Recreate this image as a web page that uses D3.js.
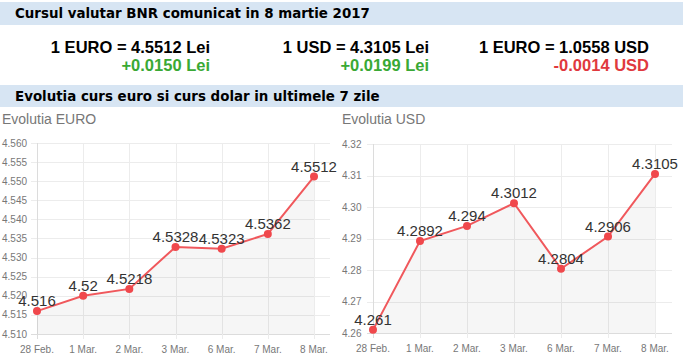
<!DOCTYPE html>
<html>
<head>
<meta charset="utf-8">
<script src="https://cdn.jsdelivr.net/npm/d3@7/dist/d3.min.js"></script>
<style>
  body { margin: 0; background: #fff; }
  svg { display: block; }
  .bar-title { font-family: "DejaVu Sans", Verdana, sans-serif; font-weight: bold; font-size: 13.4px; fill: #000; }
  .rate { font-family: "Liberation Sans", Arial, sans-serif; font-weight: bold; font-size: 16.5px; fill: #000; }
  .delta { font-family: "Liberation Sans", Arial, sans-serif; font-weight: bold; font-size: 16.5px; }
  .chart-title { font-family: "Liberation Sans", Arial, sans-serif; font-size: 14px; fill: #777; }
  .tick-label { font-family: "Liberation Sans", Arial, sans-serif; font-size: 10px; fill: #777; }
  .point-label { font-family: "Liberation Sans", Arial, sans-serif; font-size: 15px; fill: #333; }
</style>
</head>
<body>
<div id="chart"></div>
<script>
// Data
const days = ["28 Feb.", "1 Mar.", "2 Mar.", "3 Mar.", "6 Mar.", "7 Mar.", "8 Mar."];
const euroValues = [4.516, 4.52, 4.5218, 4.5328, 4.5323, 4.5362, 4.5512];
const usdValues = [4.261, 4.2892, 4.294, 4.3012, 4.2804, 4.2906, 4.3105];
const euroTicks = [4.510, 4.515, 4.520, 4.525, 4.530, 4.535, 4.540, 4.545, 4.550, 4.555, 4.560];
const usdTicks = [4.26, 4.27, 4.28, 4.29, 4.30, 4.31, 4.32];

const rates = [
    { label: "1 EURO = 4.5512 Lei", delta: "+0.0150 Lei", up: true },
    { label: "1 USD = 4.3105 Lei", delta: "+0.0199 Lei", up: true },
    { label: "1 EURO = 1.0558 USD", delta: "-0.0014 USD", up: false }
];

const width = 688;
const height = 362;

const svg = d3.select("#chart")
    .append("svg")
    .attr("width", width)
    .attr("height", height);

// Header bars
function headerBar(y, h, text) {
    svg.append("rect")
        .attr("x", 0)
        .attr("y", y)
        .attr("width", 683)
        .attr("height", h)
        .attr("fill", "#d7e5f3");
    svg.append("text")
        .attr("class", "bar-title")
        .attr("x", 15)
        .attr("y", y + 16)
        .text(text);
}

headerBar(2, 23, "Cursul valutar BNR comunicat in 8 martie 2017");
headerBar(85, 22, "Evolutia curs euro si curs dolar in ultimele 7 zile");

// Exchange rate summary
const rateRight = [210, 429, 649];
rates.forEach((r, i) => {
    svg.append("text")
        .attr("class", "rate")
        .attr("x", rateRight[i])
        .attr("y", 53)
        .attr("text-anchor", "end")
        .text(r.label);
    svg.append("text")
        .attr("class", "delta")
        .attr("x", rateRight[i])
        .attr("y", 71)
        .attr("text-anchor", "end")
        .attr("fill", r.up ? "#3aa935" : "#e0393e")
        .text(r.delta);
});

// Line chart
function lineChart(opts) {
    const g = svg.append("g");

    g.append("text")
        .attr("class", "chart-title")
        .attr("x", opts.titleX)
        .attr("y", 124)
        .text(opts.title);

    const x = d3.scalePoint()
        .domain(days)
        .range([opts.left, opts.lastX]);

    const y = d3.scaleLinear()
        .domain(opts.domain)
        .range([opts.bottom, opts.top]);

    // horizontal grid + tick labels
    g.selectAll(".hgrid")
        .data(opts.ticks)
        .enter()
        .append("line")
        .attr("x1", opts.left - 6)
        .attr("x2", opts.right)
        .attr("y1", d => Math.round(y(d)) + 0.5)
        .attr("y2", d => Math.round(y(d)) + 0.5)
        .attr("stroke", d => d === opts.domain[0] ? "#dcdcdc" : "#ececec")
        .attr("stroke-width", 1);

    g.selectAll(".ylab")
        .data(opts.ticks)
        .enter()
        .append("text")
        .attr("class", "tick-label")
        .attr("x", opts.titleX)
        .attr("y", d => y(d) + 3.5)
        .text(d => d3.format(opts.fmt)(d));

    // vertical grid + x labels
    g.selectAll(".vgrid")
        .data(days)
        .enter()
        .append("line")
        .attr("x1", d => Math.round(x(d)) + 0.5)
        .attr("x2", d => Math.round(x(d)) + 0.5)
        .attr("y1", opts.top)
        .attr("y2", opts.bottom + 5)
        .attr("stroke", (d, i) => i === 0 ? "#dcdcdc" : "#ececec")
        .attr("stroke-width", 1);

    g.selectAll(".xlab")
        .data(days)
        .enter()
        .append("text")
        .attr("class", "tick-label")
        .attr("x", d => x(d))
        .attr("y", opts.bottom + 19)
        .attr("text-anchor", "middle")
        .text(d => d);

    const series = days.map((d, i) => ({ day: d, value: opts.values[i] }));

    // area fill
    const area = d3.area()
        .x(d => x(d.day))
        .y0(opts.bottom)
        .y1(d => y(d.value));

    g.append("path")
        .datum(series)
        .attr("d", area)
        .attr("fill", "rgba(0,0,0,0.035)");

    const line = d3.line()
        .x(d => x(d.day))
        .y(d => y(d.value));

    g.append("path")
        .datum(series)
        .attr("d", line)
        .attr("fill", "none")
        .attr("stroke", "#f0585c")
        .attr("stroke-width", 2);

    g.selectAll(".pt")
        .data(series)
        .enter()
        .append("circle")
        .attr("cx", d => x(d.day))
        .attr("cy", d => y(d.value))
        .attr("r", 4)
        .attr("fill", "#f0484c");

    g.selectAll(".plab")
        .data(series)
        .enter()
        .append("text")
        .attr("class", "point-label")
        .attr("x", d => x(d.day))
        .attr("y", d => y(d.value) - 5)
        .attr("text-anchor", "middle")
        .text(d => d.value);
}

lineChart({
    title: "Evolutia EURO",
    titleX: 2,
    left: 37,
    lastX: 314,
    right: 330,
    top: 143,
    bottom: 334,
    domain: [4.51, 4.56],
    ticks: euroTicks,
    fmt: ".3f",
    values: euroValues
});

lineChart({
    title: "Evolutia USD",
    titleX: 342,
    left: 373,
    lastX: 655,
    right: 672,
    top: 144,
    bottom: 333,
    domain: [4.26, 4.32],
    ticks: usdTicks,
    fmt: ".2f",
    values: usdValues
});
</script>
</body>
</html>
